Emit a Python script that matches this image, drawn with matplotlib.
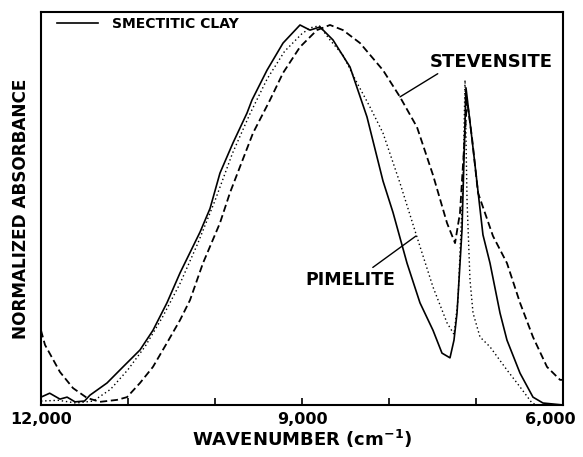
import matplotlib
matplotlib.use('Agg')
import matplotlib.pyplot as plt
from matplotlib.transforms import ScaledTranslation

# spectra (wavenumber in cm-1, normalized absorbance)
solid_wn = [12000, 11900, 11782, 11700, 11609, 11500, 11437, 11241, 11057, 10862,
            10713, 10552, 10402, 10172, 10057, 9943, 9793, 9632, 9575, 9402,
            9218, 9023, 8908, 8793, 8644, 8448, 8253, 8069, 7954, 7793,
            7644, 7494, 7391, 7299, 7253, 7218, 7161, 7115, 7011, 6920,
            6839, 6724, 6644, 6494, 6345, 6230, 6000]
solid_ab = [0.02, 0.03, 0.015, 0.02, 0.008, 0.01, 0.025, 0.056, 0.097, 0.14,
            0.19, 0.26, 0.336, 0.44, 0.50, 0.59, 0.667, 0.743, 0.776, 0.852,
            0.921, 0.967, 0.954, 0.962, 0.929, 0.86, 0.733, 0.57, 0.49, 0.361,
            0.26, 0.19, 0.132, 0.12, 0.165, 0.234, 0.445, 0.807, 0.61, 0.433,
            0.361, 0.234, 0.165, 0.081, 0.02, 0.005, 0.0]

dot_wn = [12000, 11800, 11600, 11400, 11200, 11000, 10800, 10600, 10400, 10200,
          10000, 9800, 9600, 9400, 9200, 9000, 8900, 8800, 8678, 8529,
          8368, 8218, 8069, 7874, 7678, 7494, 7333, 7253, 7207, 7149,
          7126, 7103, 7069, 7034, 6954, 6839, 6644, 6494, 6356, 6300]
dot_ab = [0.01, 0.012, 0.005, 0.01, 0.04, 0.09, 0.15, 0.225, 0.31, 0.41,
          0.52, 0.64, 0.74, 0.83, 0.9, 0.945, 0.96, 0.965, 0.929, 0.89,
          0.82, 0.758, 0.692, 0.565, 0.427, 0.30, 0.209, 0.18, 0.267, 0.57,
          0.827, 0.52, 0.318, 0.234, 0.173, 0.148, 0.089, 0.046, 0.005, 0.0]

dash_wn = [12000, 11954, 11782, 11632, 11471, 11322, 11126, 11011, 10862, 10713,
           10552, 10402, 10287, 10138, 9943, 9828, 9713, 9563, 9368, 9218,
           9023, 8828, 8678, 8529, 8333, 8069, 7874, 7678, 7494, 7333,
           7241, 7184, 7103, 7046, 6977, 6805, 6644, 6494, 6345, 6184,
           6034, 6000]
dash_ab = [0.19, 0.153, 0.084, 0.043, 0.018, 0.008, 0.013, 0.02, 0.056, 0.097,
           0.158, 0.216, 0.267, 0.361, 0.463, 0.54, 0.606, 0.692, 0.776, 0.845,
           0.911, 0.954, 0.967, 0.954, 0.921, 0.852, 0.784, 0.707, 0.585, 0.463,
           0.412, 0.489, 0.776, 0.68, 0.54, 0.43, 0.361, 0.26, 0.173, 0.097,
           0.064, 0.064]

xticks = [12000, 11000, 10000, 9000, 8000, 7000, 6000]
xticklabels = ['12,000', '', '', '9,000', '', '', '6,000']

plt.rcParams['font.family'] = ['DejaVu Sans']
plt.rcParams['font.weight'] = 'bold'

fig = plt.figure(figsize=(5.83, 4.57), dpi=100)
ax = fig.add_axes([0.0703, 0.1138, 0.8954, 0.8599])

ax.plot(solid_wn, solid_ab, color='black', linewidth=1.2, label='SMECTITIC CLAY')
ax.plot(dot_wn, dot_ab, color='black', linewidth=1.0, linestyle=(0, (1, 2)))
ax.plot(dash_wn, dash_ab, color='black', linewidth=1.3, linestyle=(0, (4, 2)))

ax.set_xlim(12000, 6000)
ax.set_ylim(0, 1)
ax.set_xticks(xticks)
ax.set_xticklabels(xticklabels, fontsize=11.5, fontweight='bold')
ax.set_yticks([])
ax.tick_params(axis='x', direction='in', length=5, width=1.2, pad=5)
for s in ax.spines.values():
    s.set_linewidth(1.5)

# last label sits a little left so it stays inside the figure
last = ax.get_xticklabels()[-1]
last.set_transform(last.get_transform() + ScaledTranslation(-9 / 72, 0, fig.dpi_scale_trans))

ax.set_xlabel('WAVENUMBER (cm$^{-1}$)', fontsize=13, fontweight='bold', labelpad=1)
ax.set_ylabel('NORMALIZED ABSORBANCE', fontsize=12.2, fontweight='bold', labelpad=8)

ax.legend(loc='upper left', bbox_to_anchor=(0.025, 0.995), frameon=False,
          handlelength=3, handletextpad=1.0, borderpad=0.2, borderaxespad=0,
          prop={'size': 10, 'weight': 'bold'})

ax.annotate('STEVENSITE', xy=(7874, 0.784), xytext=(7529, 0.873),
            fontsize=13, fontweight='bold', va='center', ha='left',
            arrowprops=dict(arrowstyle='-', color='black', lw=1.0,
                            relpos=(0.1, 0.0), shrinkA=0, shrinkB=0))
ax.annotate('PIMELITE', xy=(7690, 0.43), xytext=(8966, 0.318),
            fontsize=12.5, fontweight='bold', va='center', ha='left',
            arrowprops=dict(arrowstyle='-', color='black', lw=1.0,
                            relpos=(0.7, 1.0), shrinkA=1, shrinkB=0))

fig.savefig('out.png', dpi=100)
